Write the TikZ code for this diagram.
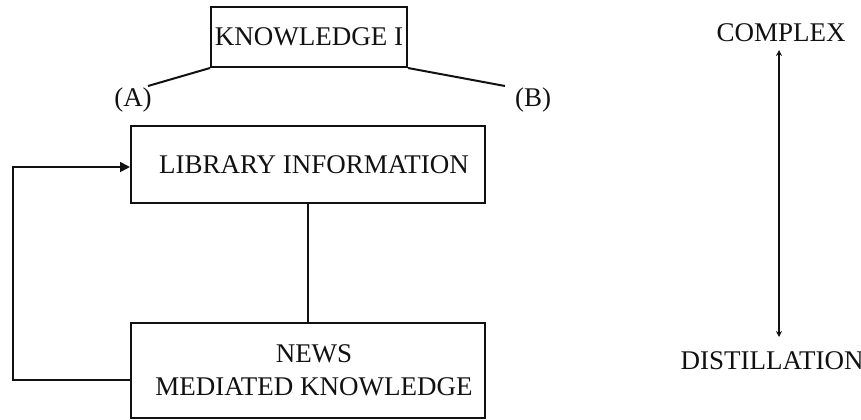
\documentclass[tikz,border=0pt]{standalone}
\usepackage{fontspec}
\setmainfont{Liberation Serif}
\usepackage{tikz}
\usetikzlibrary{positioning,arrows.meta,calc}
\definecolor{inkblack}{HTML}{111111}

\begin{document}
\begin{tikzpicture}[x=0.5pt,y=-0.5pt,
    font=\fontsize{13.5}{16.5}\selectfont,
    every node/.style={text=inkblack},
    framebox/.style={draw=inkblack,line width=1pt,inner sep=0pt,align=center},
    link/.style={draw=inkblack,line width=0.9pt},
    feedarrow/.style={link,-{Triangle[length=5pt,width=5pt]}},
    scalearrow/.style={link,line width=0.7pt,{Stealth[length=3pt,width=3pt]}-{Stealth[length=3pt,width=3pt]}}]
    \useasboundingbox (0,0) rectangle (861,419);
    \node[framebox,minimum width=98pt,minimum height=30pt] (know) at (309,37) {KNOWLEDGE I};
    \node (labA) at (133,100) {(A)};
    \node (labB) at (533,100) {(B)};
    \coordinate (endA) at (148,86);
    \coordinate (endB) at (505,86);
    \draw[link,line width=1pt] (know.south west) -- (endA);
    \draw[link,line width=1pt] (know.south east) -- (endB);
    \node[framebox,minimum width=177pt,minimum height=38.5pt] (library) at (308,164.5) {\hspace*{6pt}LIBRARY INFORMATION};
    \node[framebox,minimum width=177pt,minimum height=47.5pt] (news) at (308,370.5) {\hspace*{6pt}NEWS\\\hspace*{6pt}MEDIATED KNOWLEDGE};
    \draw[link] (library.south) -- (news.north);
    \draw[feedarrow] ([yshift=-4.75pt]news.west) -- ++(-117,0) |- ([yshift=-1.25pt]library.west);
    \node (complex) at (781,33) {COMPLEX};
    \node (distil) at (772,361) {DISTILLATION};
    \coordinate (scaletop) at (779,50);
    \coordinate (scalebot) at (779,337);
    \draw[scalearrow] (scalebot) -- (scaletop);
\end{tikzpicture}
\end{document}
